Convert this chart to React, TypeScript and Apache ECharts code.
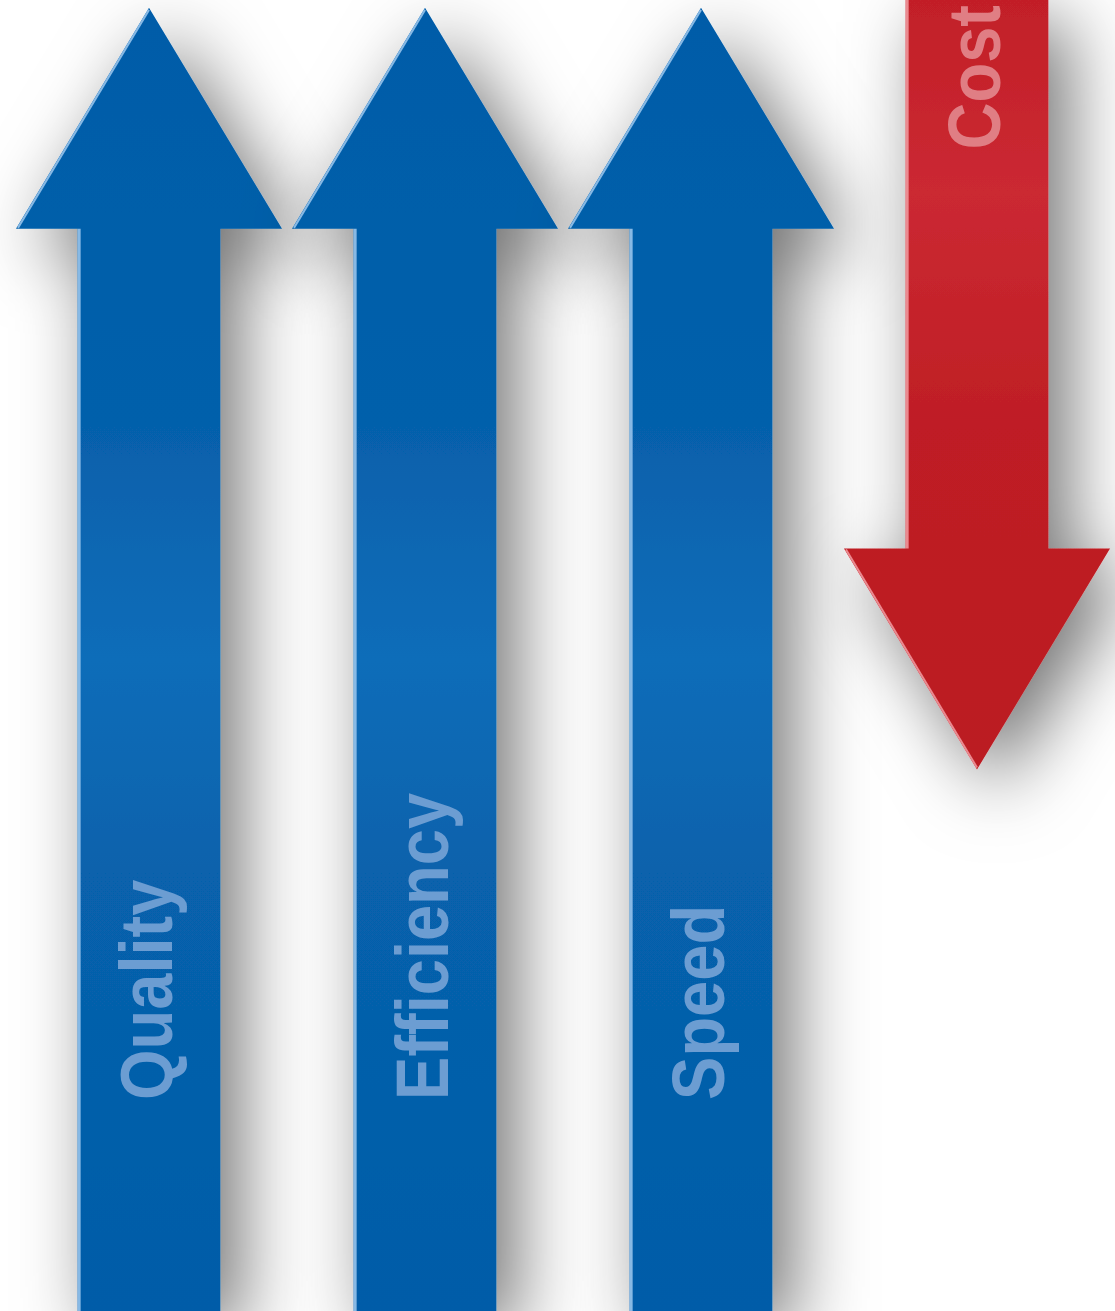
import React, { useEffect, useRef } from "react";
import * as echarts from "echarts";

const categories = ["Quality", "Efficiency", "Speed", "Cost"];
const startLevel = [0, 0, 0, 100];
const endLevel = [99.4, 99.4, 99.4, 41.3];
const labelLevel = [16.1, 16.1, 16.1, 88.6];
const trend = ["up", "up", "up", "down"];

export default function App() {
  const ref = useRef<HTMLDivElement>(null);
  useEffect(() => {
    document.body.style.margin = "0";
    const chart = echarts.init(ref.current!, null, { renderer: "svg" });
    const data = categories.map((c, i) => [i, startLevel[i], endLevel[i], labelLevel[i]]);
    const blueFill = () =>
      new echarts.graphic.LinearGradient(0, 0, 0, 1, [
        { offset: 0, color: "#045ca8" },
        { offset: 0.32, color: "#0660ab" },
        { offset: 0.5, color: "#0e6db9" },
        { offset: 0.66, color: "#0762ac" },
        { offset: 1, color: "#045ca8" },
      ]);
    const redFill = () =>
      new echarts.graphic.LinearGradient(0, 0, 0, 1, [
        { offset: 0, color: "#c21f28" },
        { offset: 0.25, color: "#cb2932" },
        { offset: 0.55, color: "#bf1e25" },
        { offset: 1, color: "#bb1b22" },
      ]);
    const renderItem = (params: any, api: any) => {
      const idx = api.value(0);
      const pFrom = api.coord([idx, api.value(1)]);
      const pTo = api.coord([idx, api.value(2)]);
      const pLabel = api.coord([idx, api.value(3)]);
      const band = api.size([1, 0])[0];
      const cx = pFrom[0];
      const shaftHalf = (band * 0.517) / 2;
      const headHalf = (band * 0.964) / 2;
      const headLen = 221;
      const dir = pFrom[1] > pTo[1] ? 1 : -1; // 1 = up arrow
      const tipY = pTo[1];
      const baseY = tipY + dir * headLen;
      const up = trend[idx] === "up";
      const pts = [
        [cx - shaftHalf, pFrom[1]],
        [cx - shaftHalf, baseY],
        [cx - headHalf, baseY],
        [cx, tipY],
        [cx + headHalf, baseY],
        [cx + shaftHalf, baseY],
        [cx + shaftHalf, pFrom[1]],
      ];
      const edge = up ? "rgba(150,195,235,0.9)" : "rgba(240,150,155,0.9)";
      return {
        type: "group",
        children: [
          {
            type: "polygon",
            shape: { points: pts },
            style: {
              fill: up ? blueFill() : redFill(),
              shadowBlur: 75,
              shadowColor: "rgba(0,0,0,0.55)",
              shadowOffsetX: 20,
              shadowOffsetY: 22,
            },
          },
          {
            type: "polyline",
            shape: {
              points: [
                [cx - shaftHalf + 1.5, pFrom[1]],
                [cx - shaftHalf + 1.5, baseY],
              ],
            },
            style: { stroke: edge, lineWidth: 3, fill: null },
          },
          {
            type: "polyline",
            shape: {
              points: [
                [cx - headHalf + 2, baseY - dir * 1],
                [cx, tipY + dir * 2],
              ],
            },
            style: { stroke: edge, lineWidth: 2, fill: null },
          },
          {
            type: "text",
            x: pLabel[0] - 3,
            y: pLabel[1],
            rotation: Math.PI / 2,
            scaleY: 1.15,
            style: {
              text: categories[idx],
              fill: up ? "#6c9dd2" : "#e07e84",
              fontSize: 65,
              fontWeight: "bold",
              fontFamily: "Liberation Sans, Arial, sans-serif",
              align: "left",
              verticalAlign: "middle",
            },
          },
        ],
      };
    };
    chart.setOption({
      animation: false,
      backgroundColor: "#ffffff",
      grid: { left: 11, right: 0, top: 0, bottom: 0 },
      xAxis: { type: "category", data: categories, show: false },
      yAxis: { type: "value", min: 0, max: 100, show: false },
      series: [
        {
          type: "custom",
          renderItem,
          data,
          clip: false,
        },
      ],
    });
    return () => chart.dispose();
  }, []);
  return <div ref={ref} style={{ width: 1115, height: 1311 }} />;
}
